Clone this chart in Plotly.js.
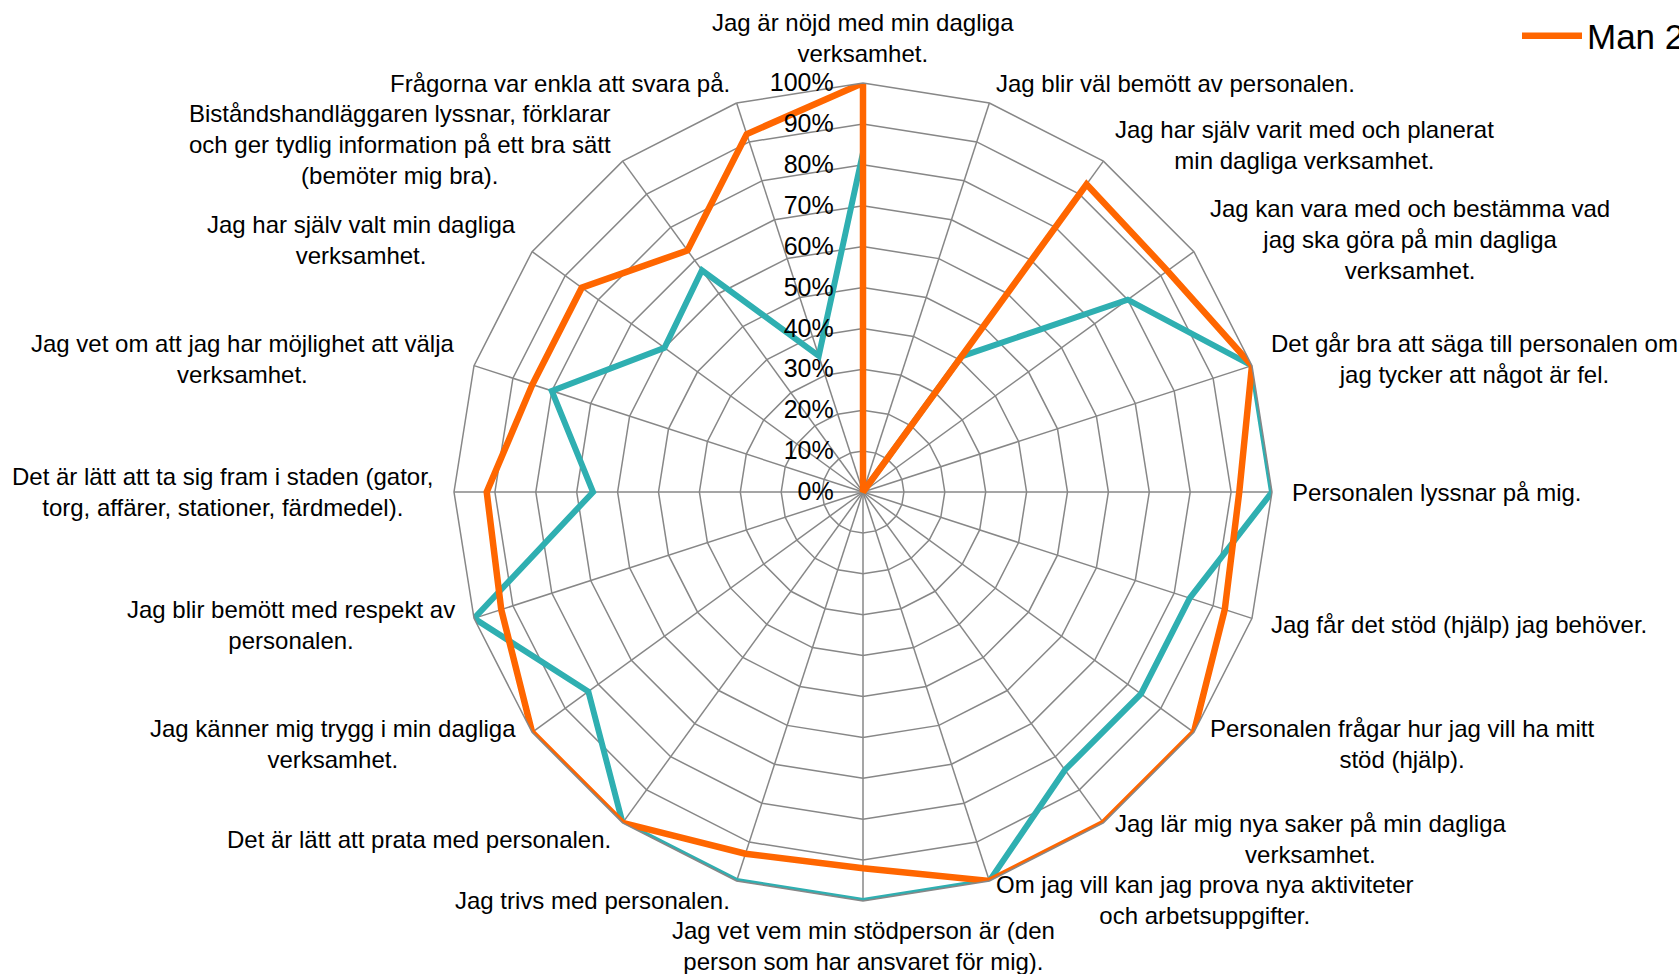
<!DOCTYPE html>
<html>
<head>
<meta charset="utf-8">
<script src="https://cdn.plot.ly/plotly-3.0.1.min.js"></script>
<style>
html,body{margin:0;padding:0;background:#fff;overflow:hidden;}
#chart{width:1679px;height:974px;}
</style>
</head>
<body>
<div id="chart"></div>
<script>
const categories = [
  "Jag är nöjd med min dagliga<br>verksamhet.",
  "Jag blir väl bemött av personalen.",
  "Jag har själv varit med och planerat<br>min dagliga verksamhet.",
  "Jag kan vara med och bestämma vad<br>jag ska göra på min dagliga<br>verksamhet.",
  "Det går bra att säga till personalen om<br>jag tycker att något är fel.",
  "Personalen lyssnar på mig.",
  "Jag får det stöd (hjälp) jag behöver.",
  "Personalen frågar hur jag vill ha mitt<br>stöd (hjälp).",
  "Jag lär mig nya saker på min dagliga<br>verksamhet.",
  "Om jag vill kan jag prova nya aktiviteter<br>och arbetsuppgifter.",
  "Jag vet vem min stödperson är (den<br>person som har ansvaret för mig).",
  "Jag trivs med personalen.",
  "Det är lätt att prata med personalen.",
  "Jag känner mig trygg i min dagliga<br>verksamhet.",
  "Jag blir bemött med respekt av<br>personalen.",
  "Det är lätt att ta sig fram i staden (gator,<br>torg, affärer, stationer, färdmedel).",
  "Jag vet om att jag har möjlighet att välja<br>verksamhet.",
  "Jag har själv valt min dagliga<br>verksamhet.",
  "Biståndshandläggaren lyssnar, förklarar<br>och ger tydlig information på ett bra sätt<br>(bemöter mig bra).",
  "Frågorna var enkla att svara på."
];

const manName = "Man 2013";
const manValues = [1.00, 0, 0.93, 0.92, 1.00, 0.92, 0.93, 1.00, 1.00, 1.00,
                   0.92, 0.93, 1.00, 1.00, 0.93, 0.92, 0.85, 0.85, 0.73, 0.92];

const otherName = "Kvinna 2013";
const otherValues = [0.83, 0, 0.41, 0.80, 1.00, 1.00, 0.84, 0.84, 0.84, 1.00,
                     1.00, 1.00, 1.00, 0.83, 1.00, 0.66, 0.80, 0.60, 0.67, 0.35];

const radialTicks = [0, 0.1, 0.2, 0.3, 0.4, 0.5, 0.6, 0.7, 0.8, 0.9, 1.0];

function closed(arr){ return arr.concat([arr[0]]); }

const W = 1679, H = 974;
const FONT = "Liberation Sans, Arial, sans-serif";
const GRID = "#878787";
const polarDomain = {x: [454 / W, 1272 / W], y: [73 / H, 891 / H]};
const labelGap = 20;
const labelGapVertical = 16;

// category labels placed around the polygon, computed from the polar geometry
function categoryAnnotations() {
  const n = categories.length;
  const x0 = polarDomain.x[0] * W, x1 = polarDomain.x[1] * W;
  const y0 = (1 - polarDomain.y[1]) * H, y1 = (1 - polarDomain.y[0]) * H;
  const cx = (x0 + x1) / 2, cy = (y0 + y1) / 2;
  const R = Math.min(x1 - x0, y1 - y0) / 2;
  return categories.map((txt, i) => {
    const a = i * 2 * Math.PI / n;
    const s = Math.sin(a), c = Math.cos(a);
    const vertical = Math.abs(s) < 1e-6;
    const g = vertical ? labelGapVertical : labelGap;
    const px = cx + (R + g) * s;
    const py = cy - (R + g) * c;
    let xanchor, yanchor;
    if (vertical) {
      xanchor = "center";
      yanchor = c > 0 ? "bottom" : "top";
    } else {
      xanchor = s > 0 ? "left" : "right";
      yanchor = "middle";
    }
    return {
      xref: "paper", yref: "paper",
      x: px / W, y: 1 - py / H,
      xanchor: xanchor, yanchor: yanchor,
      text: txt, showarrow: false, align: "center",
      borderpad: 0, borderwidth: 0,
      font: {family: FONT, size: 24, color: "#000000"}
    };
  });
}

const traces = [
  {
    type: "scatterpolar",
    mode: "lines",
    r: closed(otherValues),
    theta: closed(categories),
    name: otherName,
    showlegend: false,
    line: {color: "#2FAFB1", width: 6},
    hoverinfo: "skip"
  },
  {
    type: "scatterpolar",
    mode: "lines",
    r: closed(manValues),
    theta: closed(categories),
    name: manName,
    line: {color: "#FF6600", width: 6.5},
    hoverinfo: "skip"
  }
];

const layout = {
  width: W,
  height: H,
  paper_bgcolor: "#ffffff",
  plot_bgcolor: "#ffffff",
  margin: {l: 0, r: 0, t: 0, b: 0, autoexpand: false},
  font: {family: FONT, color: "#000000", size: 24},
  showlegend: true,
  legend: {
    x: 1517 / W,
    xanchor: "left",
    y: 1 - 36 / H,
    yanchor: "middle",
    itemwidth: 60,
    font: {family: FONT, size: 35, color: "#000000"},
    bgcolor: "rgba(0,0,0,0)",
    borderwidth: 0
  },
  annotations: categoryAnnotations(),
  polar: {
    domain: polarDomain,
    gridshape: "linear",
    bgcolor: "#ffffff",
    radialaxis: {
      range: [0, 1],
      tickvals: radialTicks,
      tickformat: ".0%",
      angle: 90,
      tickangle: 90,
      side: "counterclockwise",
      showline: false,
      ticks: "outside",
      ticklen: 20,
      tickcolor: "rgba(0,0,0,0)",
      gridcolor: GRID,
      gridwidth: 1.5,
      tickfont: {family: FONT, size: 25, color: "#000000"}
    },
    angularaxis: {
      type: "category",
      categoryarray: categories,
      direction: "clockwise",
      rotation: 90,
      ticks: "",
      showticklabels: false,
      showline: true,
      linecolor: GRID,
      linewidth: 1.5,
      gridcolor: GRID,
      gridwidth: 1.5
    }
  }
};

Plotly.newPlot("chart", traces, layout, {staticPlot: true, displayModeBar: false});
</script>
</body>
</html>
